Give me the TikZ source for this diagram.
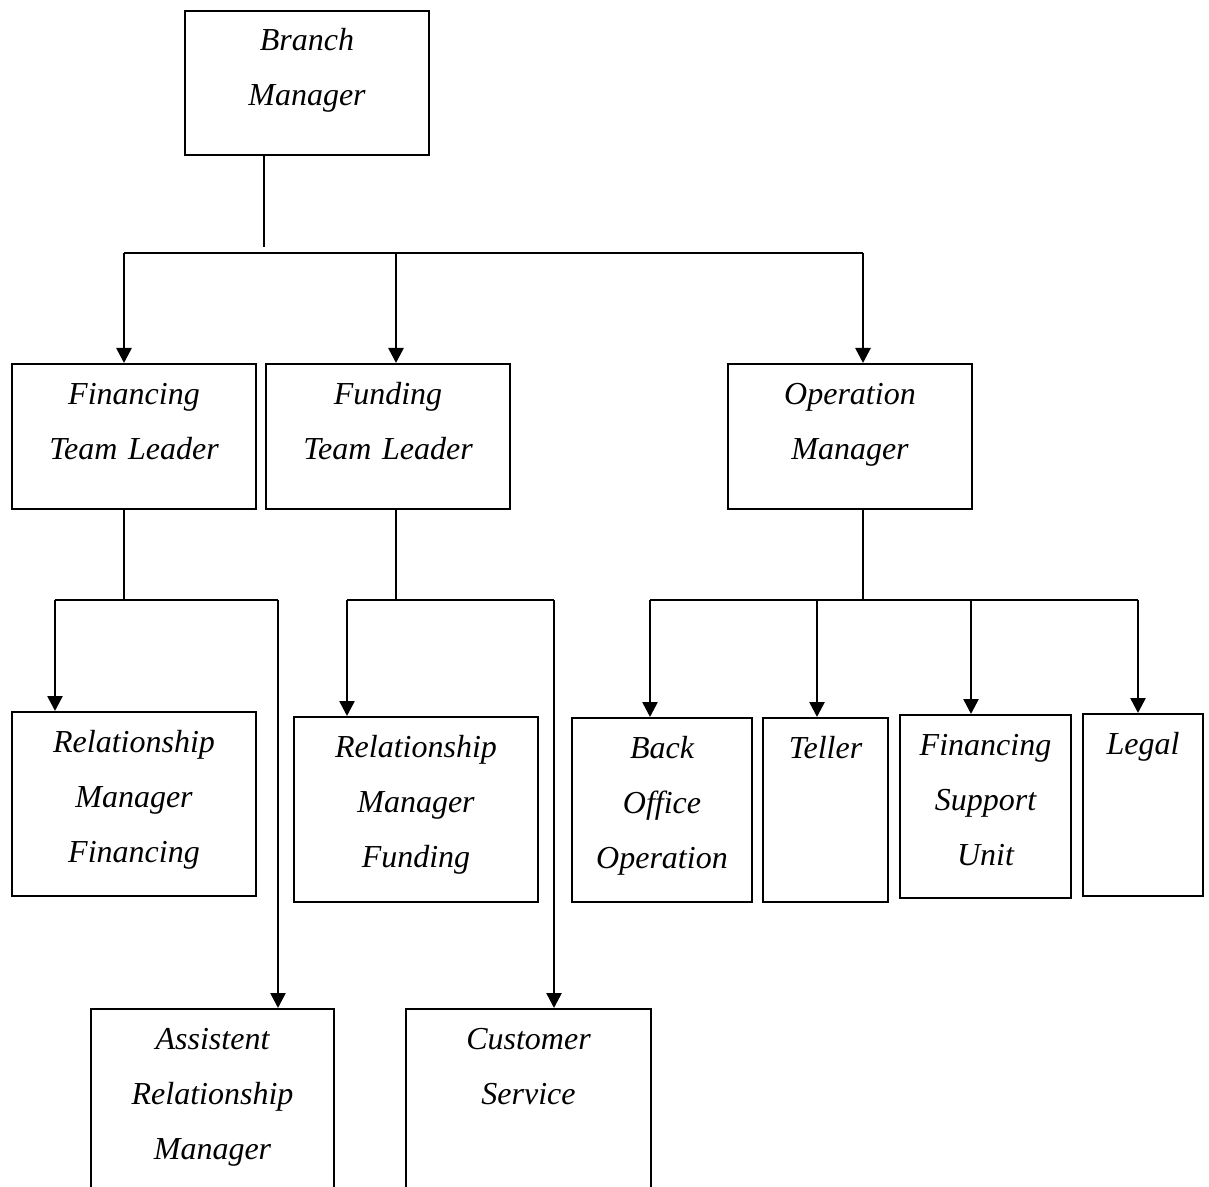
\documentclass[tikz,border=0pt]{standalone}
\usepackage{fontspec}
\setmainfont{Liberation Serif}
\usetikzlibrary{arrows.meta}

\begin{document}
\begin{tikzpicture}[x=0.5pt, y=-0.5pt,
    org/.style 2 args = {draw, line width=1pt, anchor=north west, inner sep=0pt, align=center,
      text width=#1, text height=20pt, text depth=#2,
      font=\fontsize{16pt}{27.5pt}\selectfont\itshape},
    link/.style = {line width=1pt},
    down/.style = {line width=1.3pt, -{Triangle[width=7.5pt, length=7.5pt]}}]
      \useasboundingbox (0,0) rectangle (1209,1187);

      \node[org={122pt}{52pt}] (BM) at (184,10) {Branch\\Manager};

      \node[org={122pt}{52.5pt}] (FTL) at (11,363) {Financing\\Team Leader};
      \node[org={122pt}{52.5pt}] (DTL) at (265,363) {Funding\\Team Leader};
      \node[org={122pt}{52.5pt}] (OM) at (727,363) {Operation\\Manager};

      \node[org={122pt}{72pt}] (RMF) at (11,711) {Relationship\\Manager\\Financing};
      \node[org={122pt}{72.5pt}] (RMD) at (293,716) {Relationship\\Manager\\Funding};
      \node[org={90pt}{72pt}] (BOO) at (571,717) {Back\\Office\\Operation};
      \node[org={62.5pt}{72pt}] (TL) at (762,717) {Teller};
      \node[org={85.5pt}{71.5pt}] (FSU) at (899,714) {Financing\\Support\\Unit};
      \node[org={60pt}{71pt}] (LG) at (1082,713) {Legal};

      \node[org={121.5pt}{80pt}] (ARM) at (90,1008) {Assistent\\Relationship\\Manager};
      \node[org={122.5pt}{80pt}] (CS) at (405,1008) {Customer\\Service};

      \coordinate (bm) at (264,247);
      \coordinate (b1) at (124,253);
      \coordinate (b2) at (396,253);
      \coordinate (b3) at (863,253);
      \draw[link] (BM.south -| bm) -- (bm);
      \draw[link] (b1) -- (b3);
      \draw[down] (b1) -- (b1 |- FTL.north);
      \draw[down] (b2) -- (b2 |- DTL.north);
      \draw[down] (b3) -- (b3 |- OM.north);

      \coordinate (f0) at (124,600);
      \coordinate (f1) at (55,600);
      \coordinate (f2) at (278,600);
      \draw[link] (FTL.south -| f0) -- (f0);
      \draw[link] (f1) -- (f2);
      \draw[down] (f1) -- (f1 |- RMF.north);
      \draw[down] (f2) -- (f2 |- ARM.north);

      \coordinate (d0) at (396,600);
      \coordinate (d1) at (347,600);
      \coordinate (d2) at (554,600);
      \draw[link] (DTL.south -| d0) -- (d0);
      \draw[link] (d1) -- (d2);
      \draw[down] (d1) -- (d1 |- RMD.north);
      \draw[down] (d2) -- (d2 |- CS.north);

      \coordinate (o0) at (863,600);
      \coordinate (o1) at (650,600);
      \coordinate (o2) at (817,600);
      \coordinate (o3) at (971,600);
      \coordinate (o4) at (1138,600);
      \draw[link] (OM.south -| o0) -- (o0);
      \draw[link] (o1) -- (o4);
      \draw[down] (o1) -- (o1 |- BOO.north);
      \draw[down] (o2) -- (o2 |- TL.north);
      \draw[down] (o3) -- (o3 |- FSU.north);
      \draw[down] (o4) -- (o4 |- LG.north);
  \end{tikzpicture}
\end{document}
